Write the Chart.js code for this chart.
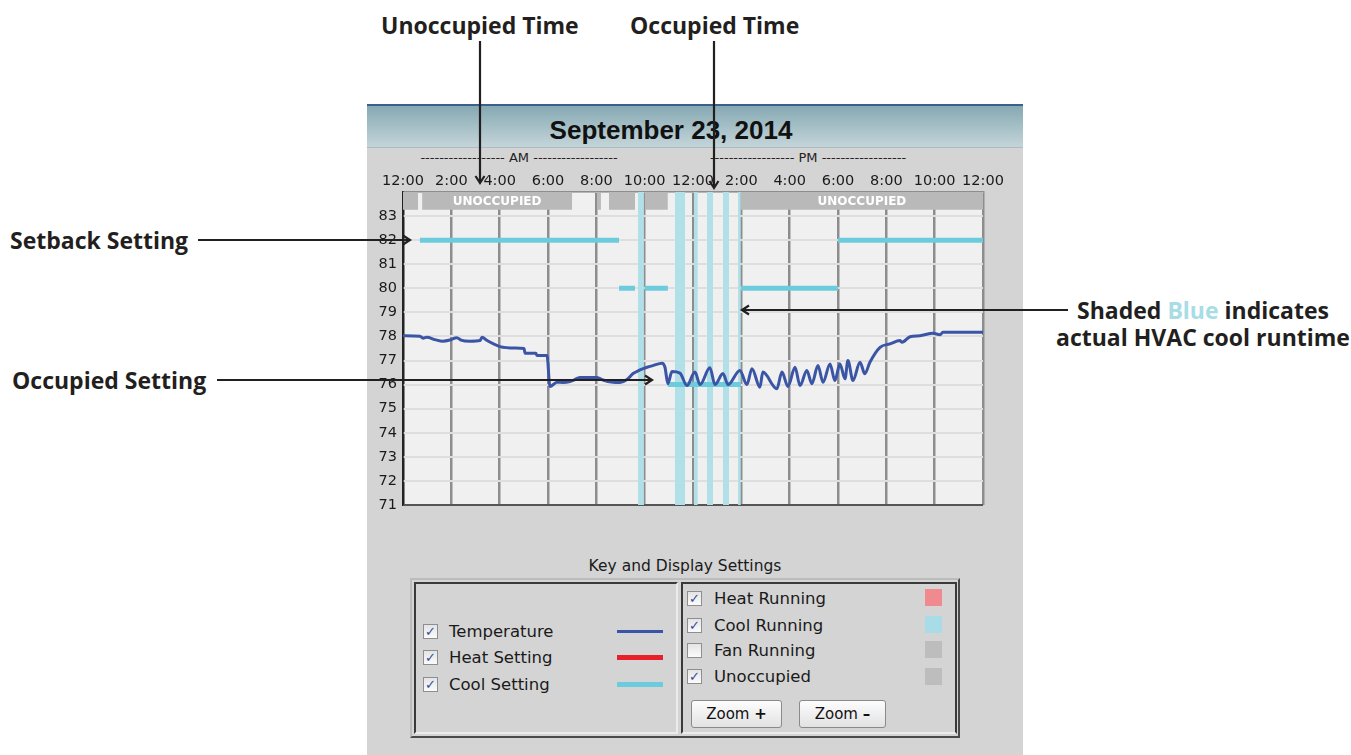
<!DOCTYPE html>
<html>
<head>
<meta charset="utf-8">
<script src="https://cdn.jsdelivr.net/npm/chart.js@4.4.1/dist/chart.umd.min.js"></script>
<style>
  html, body { margin: 0; padding: 0; background: #fff; }
  body { width: 1351px; height: 755px; position: relative; overflow: hidden; font-family: "DejaVu Sans", sans-serif; }
  .abs { position: absolute; }
  .note { position: absolute; font-family: "Open Sans", sans-serif; font-weight: 700; font-size: 23px; color: #231f20; white-space: nowrap; line-height: 28px; }
  #panel { left: 367px; top: 104px; width: 656px; height: 651px; background: #d4d4d4; }
  #header { left: 367px; top: 104px; width: 656px; height: 44px; background: linear-gradient(#86a9b3, #c4d5d9); border-top: 2px solid #3d5f8c; border-bottom: 1px solid #a9bcc1; box-sizing: border-box; }
  #title { left: 367px; top: 114px; width: 608px; text-align: center; font-family: "Liberation Sans", Arial, sans-serif; font-weight: 700; font-size: 26px; line-height: 32px; color: #111; }
  .ampm { position: absolute; top: 150px; font-size: 13px; line-height: 16px; color: #222; white-space: nowrap; transform: translateX(-50%); }
  #chartBox { left: 367px; top: 150px; width: 656px; height: 370px; }
  .frame { position: absolute; box-sizing: border-box; }
  .cb { position: absolute; width: 15px; height: 15px; box-sizing: border-box; border: 1px solid #8e8e8e; background: linear-gradient(#e4e4e4, #fbfbfb); color: #2f4c9c; font-size: 13px; font-weight: bold; line-height: 13px; text-align: center; }
  .lbl { position: absolute; font-size: 16.5px; line-height: 20px; color: #1a1a1a; white-space: nowrap; }
  .sw { position: absolute; width: 17px; height: 17px; }
  .btn { position: absolute; height: 28px; box-sizing: border-box; border: 1px solid #8a8a8a; border-radius: 3px; background: linear-gradient(#fdfdfd, #e2e2e2); font-size: 15px; line-height: 26px; text-align: center; color: #111; }
</style>
</head>
<body>
<div id="panel" class="abs"></div>
<div id="header" class="abs"></div>
<div id="title" class="abs">September 23, 2014</div>
<div class="ampm" style="left:519px">------------------ AM ------------------</div>
<div class="ampm" style="left:808px">------------------ PM ------------------</div>
<div id="chartBox" class="abs"><canvas id="chartTemp" width="656" height="370"></canvas></div>

<!-- key and display settings -->
<div class="lbl" style="left:685px;top:556px;transform:translateX(-50%);font-size:15.5px">Key and Display Settings</div>
<div class="frame" style="left:410px;top:578px;width:550px;height:160px;border:2px solid;border-color:#bcbcbc #4a4a4a #4a4a4a #bcbcbc"></div>
<div class="frame" style="left:414px;top:582px;width:264px;height:152px;border:2px solid;border-color:#3a3a3a #ececec #ececec #3a3a3a"></div>
<div class="frame" style="left:681px;top:582px;width:276px;height:152px;border:2px solid;border-color:#3a3a3a #3a3a3a #ececec #3a3a3a"></div>

<div class="cb" style="left:423px;top:624px">✓</div><div class="lbl" style="left:449px;top:622px">Temperature</div>
<div class="abs" style="left:617px;top:630px;width:46px;height:3px;background:#3b55a6"></div>
<div class="cb" style="left:423px;top:650px">✓</div><div class="lbl" style="left:449px;top:648px">Heat Setting</div>
<div class="abs" style="left:617px;top:655px;width:46px;height:5px;background:#e8202a"></div>
<div class="cb" style="left:423px;top:677px">✓</div><div class="lbl" style="left:449px;top:675px">Cool Setting</div>
<div class="abs" style="left:617px;top:682px;width:46px;height:5px;background:#6ccbdc"></div>

<div class="cb" style="left:687px;top:591px">✓</div><div class="lbl" style="left:714px;top:589px">Heat Running</div>
<div class="sw" style="left:925px;top:589px;background:#f08a8e"></div>
<div class="cb" style="left:687px;top:618px">✓</div><div class="lbl" style="left:714px;top:616px">Cool Running</div>
<div class="sw" style="left:925px;top:616px;background:#a8dde7"></div>
<div class="cb" style="left:687px;top:643px"></div><div class="lbl" style="left:714px;top:641px">Fan Running</div>
<div class="sw" style="left:925px;top:641px;background:#bdbdbd"></div>
<div class="cb" style="left:687px;top:669px">✓</div><div class="lbl" style="left:714px;top:667px">Unoccupied</div>
<div class="sw" style="left:925px;top:668px;background:#bdbdbd"></div>
<div class="btn" style="left:691px;top:700px;width:91px">Zoom <b>+</b></div>
<div class="btn" style="left:799px;top:700px;width:87px">Zoom <b>–</b></div>

<!-- annotations -->
<div class="note" style="left:381px;top:11px">Unoccupied Time</div>
<div class="note" style="left:630px;top:11px">Occupied Time</div>
<div class="note" style="left:10px;top:226px">Setback Setting</div>
<div class="note" style="left:12px;top:366px">Occupied Setting</div>
<div class="note" style="left:1203px;top:296px;transform:translateX(-50%)">Shaded <span style="color:#a8dde6">Blue</span> indicates</div>
<div class="note" style="left:1203px;top:323px;transform:translateX(-50%)">actual HVAC cool runtime</div>
<svg class="abs" width="1351" height="755" style="left:0;top:0;pointer-events:none">
  <g stroke="#231f20" stroke-width="2.2" fill="none">
    <line x1="480" y1="41" x2="480" y2="182"/><polyline points="475.5,176 480,183 484.5,176"/>
    <line x1="714" y1="41" x2="714" y2="187"/><polyline points="709.5,181 714,188 718.5,181"/>
    <line x1="198" y1="240" x2="409" y2="240"/><polyline points="403,235.5 410,240 403,244.5"/>
    <line x1="217" y1="380" x2="651" y2="380"/><polyline points="645,375.5 652,380 645,384.5"/>
    <line x1="1068" y1="310" x2="743" y2="310"/><polyline points="749,305.5 742,310 749,314.5"/>
  </g>
</svg>

<script>
// Time axis (hours after midnight) and its labels
const timeLabels = ['12:00', '2:00', '4:00', '6:00', '8:00', '10:00', '12:00', '2:00', '4:00', '6:00', '8:00', '10:00', '12:00'];

// Indoor temperature
const tempHours = [0, 0.70, 0.83, 0.99, 1.32, 1.65, 1.94, 2.23, 2.40, 2.77,
    3.19, 3.27, 3.48, 4.01, 4.63, 5.01, 5.05, 5.50, 5.54, 5.96,
    6.08, 6.37, 6.62, 6.91, 7.07, 7.32, 8.03, 8.27, 8.69, 8.98,
    9.27, 9.52, 9.81, 10.10, 10.34, 10.72, 10.84, 10.96, 11.13, 11.46,
    11.75, 12.08, 12.29, 12.70, 12.91, 13.24, 13.45, 13.94, 14.23, 14.44,
    14.77, 14.89, 15.47, 15.68, 15.93, 16.22, 16.43, 16.71, 16.92, 17.17,
    17.38, 17.67, 17.87, 18.08, 18.29, 18.41, 18.62, 18.91, 19.11, 19.32,
    19.74, 20.15, 20.56, 20.65, 20.98, 21.39, 21.93, 22.22, 22.34, 24];
const tempValues = [78.03, 78.01, 77.93, 77.97, 77.87, 77.80, 77.85, 77.95, 77.85, 77.80,
    77.83, 77.97, 77.83, 77.58, 77.52, 77.50, 77.30, 77.30, 77.21, 77.21,
    75.92, 76.10, 76.09, 76.13, 76.19, 76.30, 76.30, 76.19, 76.10, 76.09,
    76.21, 76.46, 76.61, 76.72, 76.79, 76.89, 76.72, 76.04, 76.54, 76.48,
    75.96, 76.52, 76.00, 76.70, 76.00, 76.46, 76.00, 76.59, 76.00, 76.66,
    75.89, 76.52, 75.83, 76.52, 75.92, 76.72, 75.96, 76.59, 76.04, 76.79,
    76.10, 76.86, 76.17, 76.86, 76.24, 77.00, 76.17, 76.93, 76.45, 76.93,
    77.55, 77.69, 77.83, 77.76, 77.99, 78.03, 78.13, 78.07, 78.17, 78.17];

// Cool setting segments
const coolSetFrom = [0.70, 8.94, 10.00, 10.96, 13.98, 18.00];
const coolSetTo = [8.94, 9.60, 10.96, 13.98, 18.00, 24.00];
const coolSetValue = [82, 80, 80, 76, 80, 82];

// Cool running (shaded blue) intervals
const coolRunStart = [9.72, 11.25, 12.04, 12.58, 13.24, 13.86];
const coolRunEnd = [9.97, 11.67, 12.20, 12.83, 13.49, 13.98];

// Unoccupied strip intervals
const unoccStart = [0, 0.79, 8.03, 8.52, 10.00, 13.98];
const unoccEnd = [0.62, 7.00, 8.19, 9.60, 10.96, 24.00];

const yMin = 71, yMax = 84, stripBottom = 83.26;

// ── build datasets ──
const coolSetPoints = [];
coolSetFrom.forEach((f, i) => {
    coolSetPoints.push({x: f, y: coolSetValue[i]}, {x: coolSetTo[i], y: coolSetValue[i]}, {x: coolSetTo[i], y: null});
});

const datasets = [
    {
        label: 'Temperature',
        data: tempHours.map((h, i) => ({x: h, y: tempValues[i]})),
        borderColor: '#3b55a6',
        borderWidth: 3,
        borderJoinStyle: 'round',
        cubicInterpolationMode: 'monotone',
        pointRadius: 0,
        fill: false,
        order: 0,
    },
    {
        label: 'Cool Setting',
        data: coolSetPoints,
        borderColor: '#6ccbdc',
        borderWidth: 5,
        borderCapStyle: 'butt',
        pointRadius: 0,
        spanGaps: false,
        fill: false,
        order: 1,
    },
];

unoccStart.forEach((s, i) => {
    datasets.push({
        label: 'Unoccupied',
        data: [{x: s, y: yMax}, {x: unoccEnd[i], y: yMax}],
        borderWidth: 0,
        borderColor: 'rgba(0,0,0,0)',
        backgroundColor: '#b9b9b9',
        pointRadius: 0,
        fill: {value: stripBottom},
        order: 2,
    });
});

coolRunStart.forEach((s, i) => {
    datasets.push({
        label: 'Cool Running',
        data: [{x: s, y: yMax}, {x: coolRunEnd[i], y: yMax}],
        borderWidth: 0,
        borderColor: 'rgba(0,0,0,0)',
        backgroundColor: '#b1e0e8',
        pointRadius: 0,
        fill: 'start',
        order: 3,
    });
});

// plot background and strip labels
const plotDecor = {
    id: 'plotDecor',
    beforeDraw(chart) {
        const a = chart.chartArea, ctx = chart.ctx;
        ctx.save();
        ctx.fillStyle = '#f0f0f0';
        ctx.fillRect(a.left, a.top, a.right - a.left, a.bottom - a.top);
        ctx.restore();
    },
    afterDatasetsDraw(chart) {
        const x = chart.scales.x, y = chart.scales.y, ctx = chart.ctx;
        ctx.save();
        ctx.fillStyle = '#ffffff';
        ctx.font = 'bold 12px "DejaVu Sans"';
        ctx.textAlign = 'center';
        ctx.textBaseline = 'middle';
        const cy = (y.getPixelForValue(yMax) + y.getPixelForValue(stripBottom)) / 2;
        unoccStart.forEach((s, i) => {
            if (unoccEnd[i] - s < 4) return;
            const cx = (x.getPixelForValue(s) + x.getPixelForValue(unoccEnd[i])) / 2;
            ctx.fillText('UNOCCUPIED', cx, cy + 1);
        });
        ctx.restore();
    }
};

new Chart(document.getElementById('chartTemp'), {
    type: 'line',
    data: { datasets },
    options: {
        responsive: false,
        animation: false,
        events: [],
        layout: { padding: { left: 0, right: 40, top: 0, bottom: 15 } },
        plugins: { legend: { display: false }, tooltip: { enabled: false } },
        scales: {
            x: {
                type: 'linear',
                position: 'top',
                min: 0,
                max: 24,
                afterFit: s => { s.height = 42; },
                ticks: {
                    stepSize: 2,
                    autoSkip: false,
                    maxRotation: 0,
                    padding: 2,
                    color: '#1a1a1a',
                    font: { family: 'DejaVu Sans', size: 14.5 },
                    callback: (v, i) => timeLabels[i],
                },
                grid: {
                    drawTicks: false,
                    lineWidth: 2.5,
                    color: ctx => ctx.tick && (ctx.tick.value === 0) ? '#222' : '#8d8d8d',
                },
                border: { display: true, color: '#8d8d8d', width: 1.5 },
            },
            y: {
                min: yMin,
                max: yMax,
                afterFit: s => { s.width = 36; },
                ticks: {
                    stepSize: 1,
                    padding: 6,
                    color: '#1a1a1a',
                    font: { family: 'DejaVu Sans', size: 14.5 },
                    callback: v => v === yMax ? '' : v,
                },
                grid: {
                    drawTicks: false,
                    lineWidth: 2,
                    color: ctx => ctx.tick && ctx.tick.value === yMin ? '#555' : '#dedede',
                },
                border: { display: true, color: '#222', width: 1.5 },
            }
        }
    },
    plugins: [plotDecor]
});
</script>
</body>
</html>
